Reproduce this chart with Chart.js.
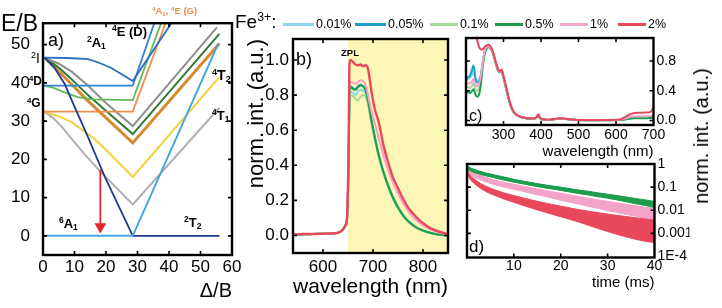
<!DOCTYPE html>
<html><head><meta charset="utf-8">
<script src="https://cdn.jsdelivr.net/npm/chart.js@4.4.1/dist/chart.umd.min.js"></script>
<style>
html,body{margin:0;padding:0;background:#fff;}
#wrap{position:relative;width:722px;height:308px;overflow:hidden;font-family:"Liberation Sans",Arial,sans-serif;}
canvas{position:absolute;left:0;top:0;}
.t{position:absolute;white-space:nowrap;line-height:1;color:#000;}
.b{font-weight:bold;}
sup{font-size:65%;vertical-align:0.55em;line-height:0;}
sub{font-size:65%;vertical-align:-0.25em;line-height:0;}
.ln{position:absolute;height:3px;}
</style></head><body><div id="wrap">
<canvas id="ca" width="722" height="308"></canvas>
<canvas id="cb" width="722" height="308"></canvas>
<canvas id="cc" width="722" height="308"></canvas>
<canvas id="cd" width="722" height="308"></canvas>

<div class="t" style="left:1px;top:12px;font-size:23px;">E/B</div>
<div class="t" style="left:31px;top:51px;font-size:14px;"><sup>2</sup>I</div>
<div class="t b" style="left:29px;top:75px;font-size:12px;"><sup>4</sup>D</div>
<div class="t b" style="left:27px;top:97px;font-size:12px;"><sup>4</sup>G</div>
<div class="t" style="left:48px;top:31px;font-size:18px;">a)</div>
<div class="t b" style="left:87px;top:36px;font-size:13px;"><sup>2</sup>A<sub>1</sub></div>
<div class="t b" style="left:112px;top:25px;font-size:13px;"><sup>4</sup>E (D)</div>
<div class="t b" style="left:152px;top:6px;font-size:9.5px;color:#ef8d4d;"><sup>4</sup>A<sub>1</sub>, <sup>4</sup>E (G)</div>
<div class="t b" style="left:212px;top:68px;font-size:14px;"><sup>4</sup>T<sub>2</sub></div>
<div class="t b" style="left:212px;top:109px;font-size:13px;"><sup>4</sup>T<sub>1</sub></div>
<div class="t b" style="left:59px;top:217px;font-size:13px;"><sup>6</sup>A<sub>1</sub></div>
<div class="t b" style="left:184px;top:216px;font-size:13px;"><sup>2</sup>T<sub>2</sub></div>

<div class="t" style="left:296px;top:50px;font-size:18px;">b)</div>
<div class="t b" style="left:341px;top:48px;font-size:9.5px;">ZPL</div>
<div class="t" style="left:469px;top:108px;font-size:16px;">c)</div>
<div class="t" style="left:469px;top:238px;font-size:17px;">d)</div>

<div class="t" style="left:701px;top:136px;font-size:20px;transform:translate(-50%,-50%) rotate(-90deg);">norm. int. (a.u.)</div>

<div class="t" style="left:235px;top:12px;font-size:19px;">Fe<sup>3+</sup>:</div>
<div id="legend"></div>
</div>
<script>
Chart.defaults.font.family = '"Liberation Sans", Arial, sans-serif';
Chart.defaults.color = '#000';
Chart.defaults.animation = false;

// ---------- series names / colours
const seriesNames = ['0.01%','0.05%','0.1%','0.5%','1%','2%'];
const seriesColors = ['#8fd6ea','#1a9fc9','#a7d99b','#1e9e4a','#f3a3c7','#e9485b'];

// ---------- panel a: Tanabe–Sugano d5 diagram (Δ/B, E/B)
const aTicksX = [0,10,20,30,40,50,60];
const aTicksY = [0,10,20,30,40,50];
const a6A1 = [[0,0],[28.5,0],[55.6,50.2]];
const a2T2 = [[0.5,46.6],[3.7,43.9],[6.9,39.7],[10,33.8],[14.3,25.8],[19.6,15.5],[28.5,0],[56,0]];
const a2A1 = [[0.5,46.6],[8,46.5],[14.3,46.2],[18,45.2],[21.7,43.9],[25.9,41.8],[28.5,40.5],[41.9,57]];
const a4D = [[0,39.3],[28.5,39.3],[35.9,57]];
const a4ED = [[0,39.3],[3,38.8],[6,37.8],[11,36.3],[16,35.7],[28.5,35.5],[38.1,57]];
const a4A1 = [[0,32.5],[28.5,32.5],[39.5,57]];
const aGrayUp = [[0.5,46.6],[5,45],[9,43],[14,39.5],[19.6,35],[28.5,28.7],[55.2,54.5]];
const aDkGreen = [[0.5,46.6],[5,44],[9,41],[14,37],[19.6,33],[28.5,26.6],[56,52.8]];
const aOrange = [[0.5,46.6],[5,43],[9,39.7],[14,35.5],[19.6,31.2],[28.5,24.3],[56,50.3]];
const aYellow = [[0.3,32.5],[4.8,31.3],[9,29.8],[12,28],[16,25.6],[20,22.5],[28.5,15.4],[56,41.5]];
const aGrayLow = [[0.3,32.5],[3,31],[6,28.5],[9,25.5],[13,21.5],[18,17],[28.5,8.2],[56,33.5]];
const aArrow = [[18.2,17.3],[18.2,2.4]];

// ---------- panel b: emission spectra
const bTicksX = [600,700,800];
const bTicksY = [0,0.2,0.4,0.6,0.8,1.0];
const bTickLabelsY = ['0.0','0.2','0.4','0.6','0.8','1.0'];
const bWave = [540,560,580,600,620,630,640,645,648,651,653,655,660,665,670,675,680,685,690,693,696,700,705,710,715,720,730,740,750,760,770,780,790,800,810,820,830,840,850];
const bEm001 = [0.005,0.007,0.008,0.01,0.012,0.015,0.033,0.055,0.09,0.39,0.78,0.82,0.815,0.8,0.82,0.83,0.825,0.81,0.76,0.71,0.66,0.6,0.53,0.465,0.41,0.36,0.278,0.21,0.156,0.112,0.08,0.056,0.039,0.027,0.017,0.01,0.006,0.003,0.001];
const bEm005 = [0.005,0.007,0.008,0.01,0.012,0.015,0.033,0.055,0.09,0.4,0.81,0.85,0.84,0.835,0.85,0.86,0.85,0.83,0.775,0.725,0.672,0.612,0.542,0.477,0.422,0.372,0.287,0.217,0.162,0.117,0.083,0.059,0.041,0.029,0.019,0.011,0.006,0.003,0.001];
const bEm01 = [0.005,0.007,0.008,0.01,0.012,0.015,0.033,0.055,0.09,0.38,0.76,0.8,0.795,0.78,0.77,0.79,0.8,0.79,0.745,0.7,0.655,0.6,0.535,0.47,0.415,0.365,0.282,0.213,0.158,0.114,0.081,0.057,0.04,0.028,0.018,0.011,0.006,0.003,0.001];
const bEm05 = [0.005,0.007,0.008,0.01,0.012,0.015,0.033,0.055,0.09,0.4,0.8,0.845,0.835,0.83,0.845,0.855,0.85,0.83,0.77,0.72,0.67,0.61,0.54,0.475,0.42,0.37,0.285,0.215,0.16,0.115,0.082,0.058,0.04,0.028,0.018,0.011,0.006,0.003,0.001];
const bEm1 = [0.005,0.008,0.008,0.01,0.012,0.015,0.034,0.058,0.095,0.42,0.84,0.875,0.87,0.865,0.875,0.885,0.88,0.86,0.8,0.76,0.72,0.675,0.625,0.57,0.515,0.465,0.375,0.3,0.24,0.185,0.14,0.105,0.078,0.057,0.041,0.029,0.019,0.011,0.006];
const bEm2 = [0.005,0.008,0.008,0.01,0.012,0.015,0.035,0.06,0.1,0.45,0.98,1.0,0.99,0.975,0.97,0.975,0.965,0.97,0.95,0.9,0.84,0.77,0.705,0.66,0.6,0.525,0.42,0.33,0.27,0.21,0.16,0.125,0.095,0.07,0.05,0.035,0.024,0.015,0.008];
const bShade = [[650,1.3],[860,1.3]];

// ---------- panel c: excitation spectra
const cTicksX = [300,400,500,600,700];
const cTicksY = [0,0.4,0.8];
const cTickLabelsY = ['0.0','0.4','0.8'];
const cWave = [200,205,210,215,220,225,230,235,240,245,250,255,260,265,270,275,280,285,290,295,300,305,310,315,320,325,330,340,350,360,370,380,385,390,393,396,400,410,420,430,440,450,460,470,480,490,500,520,540,560,580,600,610,620,630,640,650,660,670,680,690,695,700];
const cEx2 = [1.3,1.3,1.3,1.3,1.3,1.2,1.08,0.99,0.955,0.96,0.99,1.01,1.02,1.0,0.95,0.87,0.78,0.7,0.665,0.685,0.6,0.5,0.39,0.28,0.2,0.14,0.1,0.065,0.045,0.035,0.028,0.03,0.035,0.06,0.085,0.05,0.025,0.015,0.012,0.016,0.025,0.03,0.028,0.022,0.017,0.012,0.008,0.006,0.006,0.006,0.008,0.01,0.016,0.035,0.065,0.09,0.1,0.105,0.105,0.108,0.112,0.13,0.18];
const cEx1 = [0.48,0.5,0.5,0.52,0.56,0.48,0.46,0.5,0.6,0.8,0.94,0.98,1.0,0.98,0.94,0.86,0.77,0.69,0.655,0.67,0.58,0.48,0.37,0.27,0.19,0.13,0.095,0.06,0.042,0.032,0.026,0.028,0.033,0.055,0.075,0.045,0.022,0.013,0.01,0.014,0.022,0.027,0.025,0.02,0.015,0.01,0.007,0.005,0.005,0.005,0.006,0.008,0.012,0.02,0.035,0.05,0.055,0.058,0.056,0.058,0.06,0.066,0.08];
const cEx05 = [0.36,0.39,0.37,0.39,0.42,0.35,0.32,0.35,0.5,0.74,0.9,0.97,0.99,0.97,0.93,0.85,0.76,0.68,0.65,0.665,0.575,0.475,0.365,0.265,0.185,0.128,0.093,0.058,0.04,0.03,0.024,0.026,0.03,0.05,0.07,0.042,0.02,0.011,0.008,0.012,0.02,0.025,0.023,0.018,0.013,0.009,0.006,0.004,0.004,0.004,0.005,0.006,0.008,0.012,0.02,0.028,0.03,0.032,0.03,0.032,0.034,0.038,0.045];
const cEx01 = [0.43,0.45,0.44,0.46,0.5,0.42,0.4,0.44,0.55,0.76,0.91,0.97,0.99,0.97,0.93,0.85,0.76,0.68,0.65,0.665,0.575,0.475,0.365,0.265,0.185,0.128,0.093,0.058,0.04,0.03,0.024,0.026,0.03,0.05,0.07,0.042,0.02,0.011,0.008,0.012,0.02,0.025,0.023,0.018,0.013,0.009,0.006,0.004,0.004,0.004,0.005,0.006,0.008,0.013,0.022,0.03,0.033,0.035,0.033,0.035,0.037,0.042,0.05];
const cEx005 = [0.55,0.58,0.6,0.66,0.74,0.58,0.52,0.54,0.62,0.8,0.93,0.98,1.0,0.98,0.94,0.86,0.77,0.69,0.655,0.67,0.58,0.48,0.37,0.27,0.19,0.13,0.095,0.06,0.042,0.032,0.026,0.028,0.033,0.055,0.075,0.045,0.022,0.013,0.01,0.014,0.022,0.027,0.025,0.02,0.015,0.01,0.007,0.005,0.005,0.005,0.006,0.008,0.01,0.015,0.025,0.035,0.04,0.042,0.04,0.042,0.045,0.05,0.06];
const cEx001 = [0.52,0.55,0.57,0.6,0.66,0.55,0.5,0.52,0.6,0.78,0.92,0.97,0.99,0.97,0.93,0.85,0.76,0.68,0.65,0.665,0.575,0.475,0.365,0.265,0.185,0.128,0.093,0.058,0.04,0.03,0.024,0.026,0.03,0.05,0.07,0.042,0.02,0.011,0.008,0.012,0.02,0.025,0.023,0.018,0.013,0.009,0.006,0.004,0.004,0.004,0.005,0.007,0.009,0.014,0.024,0.033,0.037,0.04,0.038,0.04,0.042,0.047,0.055];

// ---------- panel d: decay curves (upper / lower edge of the noisy trace)
const dTicksX = [10,20,30,40];
const dTicksY = [1e-4,1e-3,1e-2,1e-1,1];
const dTickLabelsY = ['1E-4','0.001','0.01','0.1','1'];
const dTime = [0,0.5,1,2,3,4,5,6,8,10,12,14,16,18,20,22,24,26,28,30,32,34,36,38,40];
const dGreenHi = [0.85,0.72,0.64,0.54,0.47,0.41,0.37,0.33,0.27,0.215,0.18,0.152,0.13,0.113,0.099,0.085,0.074,0.065,0.056,0.049,0.043,0.037,0.032,0.028,0.024];
const dGreenLo = [0.62,0.52,0.47,0.4,0.35,0.31,0.28,0.25,0.2,0.165,0.138,0.115,0.097,0.084,0.072,0.061,0.052,0.045,0.038,0.033,0.028,0.023,0.019,0.016,0.013];
const dBlue = [0.74,0.63,0.56,0.47,0.41,0.36,0.325,0.29,0.235,0.19,0.16,0.135,0.115,0.1,0.087,0.075,0.065,0.057,0.049,0.043,0.037,0.032,0.027,0.023,0.02];
const dCyan = [0.72,0.61,0.55,0.46,0.4,0.35,0.318,0.285,0.23,0.186,0.157,0.132,0.112,0.097,0.085,0.073,0.063,0.055,0.047,0.041,0.035,0.03,0.026,0.022,0.019];
const dLtGreen = [0.7,0.6,0.54,0.45,0.39,0.345,0.31,0.28,0.225,0.182,0.153,0.129,0.109,0.094,0.082,0.07,0.061,0.053,0.045,0.039,0.034,0.029,0.025,0.021,0.018];
const dPinkHi = [0.72,0.55,0.46,0.37,0.31,0.265,0.23,0.2,0.16,0.132,0.11,0.092,0.077,0.064,0.054,0.046,0.039,0.033,0.028,0.024,0.021,0.018,0.0155,0.0135,0.012];
const dPinkLo = [0.5,0.36,0.3,0.24,0.2,0.17,0.145,0.125,0.098,0.08,0.065,0.052,0.042,0.034,0.027,0.022,0.018,0.0145,0.012,0.0095,0.008,0.0065,0.0055,0.0045,0.0038];
const dRedHi = [0.52,0.36,0.27,0.19,0.14,0.11,0.09,0.075,0.055,0.043,0.034,0.027,0.022,0.018,0.015,0.0125,0.0105,0.009,0.0078,0.0068,0.006,0.0053,0.0047,0.0042,0.0038];
const dRedLo = [0.4,0.25,0.18,0.12,0.085,0.065,0.052,0.043,0.03,0.022,0.016,0.012,0.009,0.0068,0.0052,0.004,0.003,0.0022,0.0016,0.0012,0.0009,0.0007,0.00055,0.00045,0.0004];

// ---------- helpers
const fixW = w => s => { s.width = w; };
const fixH = h => s => { s.height = h; };
const setTicks = vals => s => { s.ticks = vals.map(v => ({value: v})); };
const xy = (xs, ys) => xs.map((x, i) => ({x: x, y: ys[i]}));

const framePlugin = {
  id: 'frame',
  afterDatasetsDraw(chart, args, opts) {
    const {ctx, chartArea: a} = chart;
    const tl = opts.tick || 4;
    ctx.save();
    ctx.strokeStyle = '#000';
    ctx.lineWidth = 1.6;
    ctx.beginPath();
    const xs = chart.scales.x, ys = chart.scales.y;
    xs.ticks.forEach(t => {
      const p = xs.getPixelForValue(t.value);
      if (p < a.left + 2 || p > a.right - 2) return;
      ctx.moveTo(p, a.bottom); ctx.lineTo(p, a.bottom - tl);
      ctx.moveTo(p, a.top); ctx.lineTo(p, a.top + tl);
    });
    ys.ticks.forEach(t => {
      const p = ys.getPixelForValue(t.value);
      if (p < a.top + 2 || p > a.bottom - 2) return;
      ctx.moveTo(a.left, p); ctx.lineTo(a.left + tl, p);
      ctx.moveTo(a.right, p); ctx.lineTo(a.right - tl, p);
    });
    ctx.stroke();
    ctx.lineWidth = 2.4;
    ctx.strokeRect(a.left, a.top, a.width, a.height);
    ctx.restore();
  }
};

function baseOpts(padding) {
  return {
    responsive: false, animation: false, events: [],
    layout: {padding: padding},
    plugins: {legend: {display: false}, tooltip: {enabled: false}, frame: {}},
    elements: {point: {radius: 0}, line: {tension: 0}}
  };
}
const noGrid = {display: false, drawTicks: false};
const noBorder = {display: false};

// ---------- chart a
const aLines = [
  {d: a6A1, c: '#45a6df', w: 2},
  {d: a2T2, c: '#1c3d8f', w: 1.8},
  {d: a2A1, c: '#2b6dc2', w: 1.8},
  {d: a4D, c: '#3583d6', w: 1.8},
  {d: a4ED, c: '#62b85a', w: 1.8},
  {d: a4A1, c: '#ef8d4d', w: 1.8},
  {d: aGrayUp, c: '#8e8e8e', w: 2},
  {d: aDkGreen, c: '#2f7a36', w: 2},
  {d: aOrange, c: '#d58a2c', w: 3},
  {d: aYellow, c: '#f2d23a', w: 2},
  {d: aGrayLow, c: '#b0b0b0', w: 2}
];
const optA = baseOpts({left: 0, top: 16, right: 490, bottom: 0});
optA.scales = {
  x: {type: 'linear', min: 0, max: 60, afterBuildTicks: setTicks(aTicksX), afterFit: fixH(53),
      grid: noGrid, border: noBorder,
      ticks: {padding: 2, font: {size: 17}, autoSkip: false, maxRotation: 0},
      title: {display: true, text: 'Δ/B', align: 'end', font: {size: 20}, padding: {top: 0, bottom: 5}}},
  y: {type: 'linear', min: -5, max: 55.6, afterBuildTicks: setTicks(aTicksY), afterFit: fixW(43),
      grid: noGrid, border: noBorder,
      ticks: {padding: 13, font: {size: 17}, autoSkip: false}}
};
new Chart(document.getElementById('ca'), {
  type: 'line',
  data: {datasets: aLines.map(l => ({data: l.d, borderColor: l.c, borderWidth: l.w, pointRadius: 0, fill: false}))
    .concat([{data: aArrow, borderColor: '#e8242c', borderWidth: 1.8, fill: false,
      pointRadius: [0, 5], pointStyle: 'triangle', rotation: 180,
      pointBackgroundColor: '#e8242c', pointBorderColor: '#e8242c', order: -1}])},
  options: optA, plugins: [framePlugin]
});

// ---------- chart b
const bSeries = [bEm001, bEm005, bEm01, bEm05, bEm1, bEm2];
const bOrder = [5, 4, 3, 2, 1, 0];
const optB = baseOpts({left: 240, top: 39, right: 274, bottom: 0});
optB.scales = {
  x: {type: 'linear', min: 540, max: 850, afterBuildTicks: setTicks(bTicksX), afterFit: fixH(55),
      grid: noGrid, border: noBorder,
      ticks: {padding: 4, font: {size: 17}, autoSkip: false, maxRotation: 0},
      title: {display: true, text: 'wavelength (nm)', font: {size: 21}, padding: {top: 0, bottom: 8}}},
  y: {type: 'linear', min: -0.1, max: 1.12, afterBuildTicks: setTicks(bTicksY), afterFit: fixW(53),
      grid: noGrid, border: noBorder,
      ticks: {padding: 4, font: {size: 17}, autoSkip: false, callback: (v, i) => bTickLabelsY[i]},
      title: {display: true, text: 'norm. int. (a.u.)', align: 'end', font: {size: 22}, padding: {top: 4, bottom: 0}}}
};
new Chart(document.getElementById('cb'), {
  type: 'line',
  data: {datasets: bSeries.map((s, i) => ({data: xy(bWave, s), borderColor: seriesColors[i], borderWidth: i === 5 ? 2.4 : 2,
      cubicInterpolationMode: 'monotone', fill: false, order: bOrder[i]}))
    .concat([{data: bShade, borderWidth: 0, backgroundColor: '#fcf7b6', fill: 'start', order: 100}])},
  options: optB, plugins: [framePlugin]
});

// ---------- chart c
const cSeries = [cEx001, cEx005, cEx01, cEx05, cEx1, cEx2];
const optC = baseOpts({left: 466, top: 38, right: 33.5, bottom: 143});
optC.scales = {
  x: {type: 'linear', min: 200, max: 700, afterBuildTicks: setTicks(cTicksX), afterFit: fixH(40),
      grid: noGrid, border: noBorder,
      ticks: {padding: 2, font: {size: 14}, autoSkip: false, maxRotation: 0},
      title: {display: true, text: 'wavelength (nm)', align: 'end', font: {size: 15}, padding: {top: 0, bottom: 4}}},
  y: {type: 'linear', position: 'right', min: -0.06, max: 1.11, afterBuildTicks: setTicks(cTicksY), afterFit: fixW(35),
      grid: noGrid, border: noBorder,
      ticks: {padding: 3, font: {size: 14}, autoSkip: false, callback: (v, i) => cTickLabelsY[i]}}
};
new Chart(document.getElementById('cc'), {
  type: 'line',
  data: {datasets: cSeries.map((s, i) => ({data: xy(cWave, s), borderColor: seriesColors[i], borderWidth: 2,
      cubicInterpolationMode: 'monotone', fill: false, order: bOrder[i]}))},
  options: optC, plugins: [framePlugin]
});

// ---------- chart d
const optD = baseOpts({left: 467, top: 164, right: 32.5, bottom: 0});
optD.scales = {
  x: {type: 'linear', min: 0, max: 40, afterBuildTicks: setTicks(dTicksX), afterFit: fixH(50.5),
      grid: noGrid, border: noBorder,
      ticks: {padding: 0, font: {size: 14}, autoSkip: false, maxRotation: 0},
      title: {display: true, text: 'time (ms)', align: 'end', font: {size: 15}, padding: {top: 0, bottom: 16}}},
  y: {type: 'logarithmic', position: 'right', min: 9e-5, max: 1, afterBuildTicks: setTicks(dTicksY), afterFit: fixW(35),
      grid: noGrid, border: noBorder,
      ticks: {padding: 3, font: {size: 14}, autoSkip: false, callback: (v, i) => dTickLabelsY[i]}}
};
const band = (hi, lo, col, ord) => [
  {data: xy(dTime, hi), borderColor: col, backgroundColor: col, borderWidth: 1, fill: '+1', order: ord},
  {data: xy(dTime, lo), borderColor: col, backgroundColor: col, borderWidth: 1, fill: false, order: ord}
];
new Chart(document.getElementById('cd'), {
  type: 'line',
  data: {datasets: [
    {data: xy(dTime, dCyan), borderColor: seriesColors[0], borderWidth: 3, fill: false, order: 6},
    {data: xy(dTime, dLtGreen), borderColor: seriesColors[2], borderWidth: 3, fill: false, order: 5},
    {data: xy(dTime, dBlue), borderColor: seriesColors[1], borderWidth: 3, fill: false, order: 4}
  ].concat(band(dGreenHi, dGreenLo, seriesColors[3], 1))
   .concat(band(dPinkHi, dPinkLo, seriesColors[4], 2))
   .concat(band(dRedHi, dRedLo, seriesColors[5], 0))},
  options: optD, plugins: [framePlugin]
});

// ---------- legend (HTML)
const legendX = [283, 355, 430, 495, 560, 618];
const lg = document.getElementById('legend');
seriesNames.forEach((n, i) => {
  const ln = document.createElement('div');
  ln.className = 'ln';
  ln.style.left = legendX[i] + 'px';
  ln.style.top = '23px';
  ln.style.width = (i < 2 ? 31 : 28) + 'px';
  ln.style.background = seriesColors[i];
  lg.appendChild(ln);
  const tx = document.createElement('div');
  tx.className = 't';
  tx.style.left = (legendX[i] + (i < 2 ? 33 : 30)) + 'px';
  tx.style.top = '18px';
  tx.style.fontSize = '12.5px';
  tx.textContent = n;
  lg.appendChild(tx);
});
</script>
</body></html>
